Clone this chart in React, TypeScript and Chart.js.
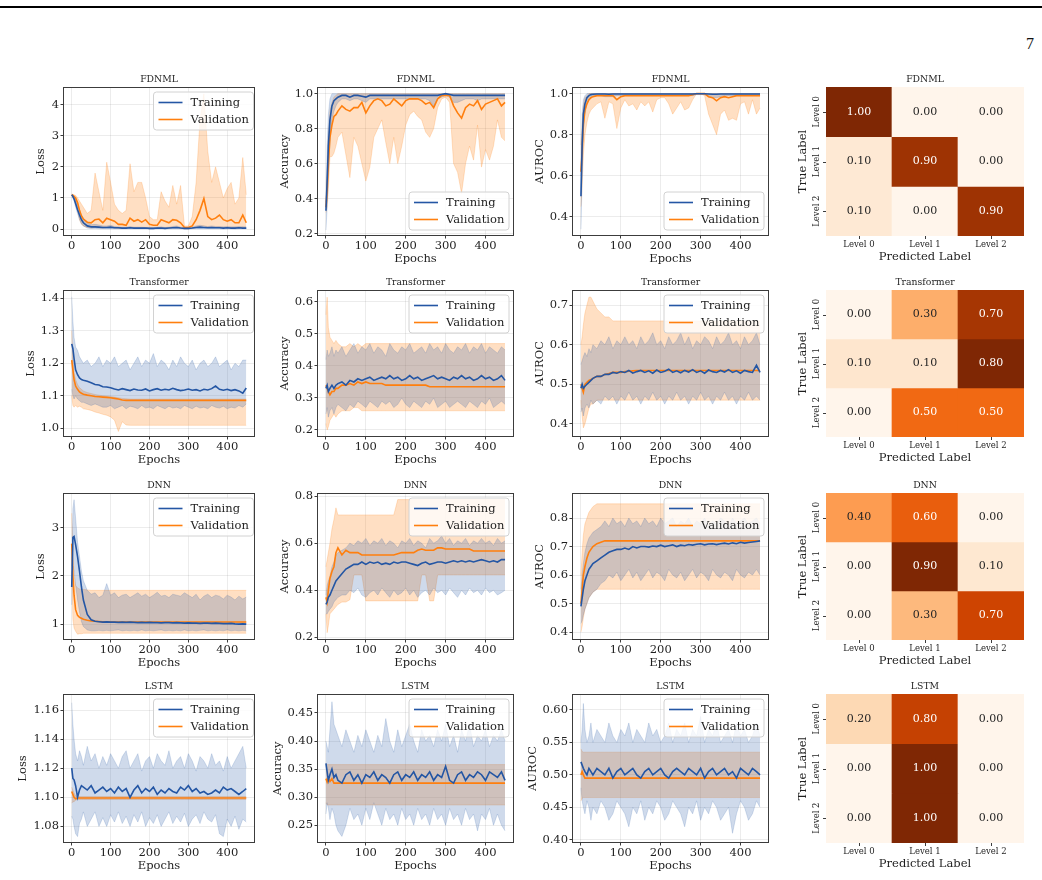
import React, { useEffect, useRef } from 'react';
import { Chart, registerables } from 'chart.js';
Chart.register(...registerables);

// ---------------- DATA ----------------
const EPOCHS = [
  0, 3, 6, 10, 15, 20, 25, 30, 40, 50,
  60, 70, 80, 90, 100, 110, 120, 130, 140, 150,
  160, 170, 180, 190, 200, 210, 220, 230, 240, 250,
  260, 270, 280, 290, 300, 310, 320, 330, 340, 350,
  360, 370, 380, 390, 400, 410, 420, 430, 440, 449,
];
const X_TICKS = [0, 100, 200, 300, 400];
const MODEL_NAMES = ['FDNML', 'Transformer', 'DNN', 'LSTM'];
const METRIC_LABELS = ['Loss', 'Accuracy', 'AUROC'];
const SERIES_NAMES = ['Training', 'Validation'];
const CM_LABELS = ['Level 0', 'Level 1', 'Level 2'];

// FDNML loss
const FDNML_LOSS_TR = [1.10,1.05,0.97,0.82,0.62,0.45,0.30,0.20,0.10,0.07, 0.07,0.06,0.05,0.05,0.06,0.04,0.04,0.03,0.03,0.04, 0.03,0.03,0.03,0.03,0.02,0.02,0.03,0.03,0.02,0.03, 0.04,0.05,0.03,0.02,0.02,0.03,0.05,0.06,0.05,0.04, 0.05,0.04,0.04,0.03,0.04,0.03,0.03,0.04,0.03,0.03];
const FDNML_LOSS_TR_LO = [1.08,1.00,0.90,0.70,0.50,0.30,0.17,0.10,0.03,0.02, 0.02,0.01,0.01,0.01,0.01,0.01,0.01,0.01,0.01,0.01, 0.01,0.01,0.01,0.01,0.00,0.00,0.01,0.01,0.00,0.01, 0.01,0.01,0.01,0.00,0.00,0.01,0.01,0.01,0.01,0.01, 0.01,0.01,0.01,0.00,0.01,0.01,0.00,0.01,0.01,0.01];
const FDNML_LOSS_TR_HI = [1.12,1.10,1.05,0.95,0.78,0.60,0.45,0.35,0.20,0.14, 0.15,0.13,0.10,0.10,0.12,0.08,0.07,0.06,0.06,0.08, 0.06,0.06,0.06,0.05,0.05,0.05,0.06,0.07,0.05,0.06, 0.08,0.10,0.06,0.05,0.05,0.06,0.10,0.12,0.10,0.08, 0.10,0.08,0.08,0.07,0.08,0.07,0.07,0.08,0.07,0.07];
const FDNML_LOSS_VA = [1.10,1.08,1.05,1.00,0.85,0.60,0.42,0.32,0.22,0.20, 0.30,0.32,0.20,0.35,0.30,0.25,0.15,0.15,0.12,0.35, 0.25,0.30,0.22,0.30,0.15,0.12,0.12,0.30,0.25,0.20, 0.30,0.28,0.20,0.05,0.05,0.10,0.30,0.60,0.98,0.40, 0.30,0.35,0.45,0.30,0.25,0.30,0.20,0.20,0.45,0.20];
const FDNML_LOSS_VA_LO = [1.08,1.00,0.95,0.85,0.60,0.30,0.15,0.10,0.05,0.03, 0.05,0.04,0.03,0.05,0.05,0.03,0.02,0.02,0.02,0.05, 0.03,0.04,0.03,0.04,0.02,0.02,0.02,0.05,0.03,0.03, 0.04,0.04,0.03,0.01,0.01,0.02,0.05,0.08,0.10,0.06, 0.05,0.05,0.06,0.04,0.04,0.05,0.03,0.03,0.06,0.03];
const FDNML_LOSS_VA_HI = [1.12,1.12,1.10,1.08,1.00,0.90,0.80,0.70,0.50,0.60, 1.80,1.20,0.60,2.15,1.50,0.80,0.60,0.50,0.60,2.10, 1.20,1.50,1.50,1.00,0.40,0.30,0.30,1.20,0.90,0.70, 1.40,0.80,1.40,0.10,0.10,0.40,1.50,3.50,4.35,2.50, 1.50,2.00,1.50,1.00,1.30,1.50,0.80,1.00,2.30,1.10];

// FDNML accuracy
const FDNML_ACC_TR = [0.33,0.50,0.70,0.85,0.93,0.96,0.97,0.98,0.99,0.99, 0.98,0.99,0.99,0.985,0.98,0.99,0.99,0.99,0.99,0.99, 0.99,0.99,0.99,0.99,0.99,0.99,0.99,0.99,0.99,0.99, 0.99,0.99,0.99,0.995,1.00,0.995,0.99,0.99,0.99,0.99, 0.99,0.99,0.99,0.99,0.99,0.99,0.99,0.99,0.99,0.99];
const FDNML_ACC_TR_LO = [0.22,0.35,0.55,0.72,0.85,0.90,0.93,0.95,0.97,0.97, 0.96,0.97,0.97,0.96,0.95,0.97,0.97,0.97,0.97,0.97, 0.97,0.97,0.97,0.97,0.97,0.97,0.97,0.97,0.97,0.97, 0.96,0.93,0.97,0.98,0.99,0.98,0.95,0.95,0.96,0.97, 0.97,0.97,0.96,0.97,0.97,0.97,0.97,0.97,0.97,0.97];
const FDNML_ACC_TR_HI = [0.38,0.70,0.88,0.97,1,1,1,1,1,1, 1,1,1,1,1,1,1,1,1,1, 1,1,1,1,1,1,1,1,1,1, 1,1,1,1,1,1,1,1,1,1, 1,1,1,1,1,1,1,1,1,1];
const FDNML_ACC_VA = [0.35,0.45,0.60,0.75,0.82,0.87,0.88,0.90,0.93,0.91, 0.90,0.92,0.92,0.95,0.89,0.93,0.96,0.97,0.96,0.93, 0.94,0.97,0.95,0.93,0.96,0.97,0.97,0.97,0.96,0.94, 0.95,0.92,0.97,0.99,0.99,0.99,0.93,0.89,0.86,0.92, 0.94,0.93,0.96,0.91,0.94,0.95,0.96,0.97,0.93,0.95];
const FDNML_ACC_VA_LO = [0.32,0.35,0.45,0.64,0.64,0.66,0.70,0.75,0.78,0.65, 0.52,0.75,0.70,0.60,0.50,0.58,0.75,0.80,0.85,0.72, 0.60,0.75,0.60,0.70,0.82,0.88,0.90,0.87,0.85,0.78, 0.75,0.80,0.92,0.97,0.98,0.95,0.60,0.55,0.43,0.60, 0.70,0.62,0.82,0.58,0.68,0.62,0.70,0.85,0.75,0.73];
const FDNML_ACC_VA_HI = [0.38,0.55,0.75,0.90,0.95,0.98,0.99,1,1,1, 1,1,1,1,1,1,1,1,1,1, 1,1,1,1,1,1,1,1,1,1, 1,1,1,1,1,1,1,1,1,1, 1,1,1,1,1,1,1,1,1,1];

// FDNML AUROC
const FDNML_AUC_TR = [0.50,0.75,0.90,0.95,0.98,0.99,0.995,0.997,0.998,0.998, 0.998,0.997,0.998,0.998,0.998,0.998,0.998,0.998,0.998,0.998, 0.998,0.998,0.998,0.998,0.998,0.998,0.998,0.998,0.998,0.998, 0.998,0.998,0.998,0.999,0.999,0.999,0.998,0.997,0.997,0.998, 0.998,0.998,0.998,0.998,0.998,0.998,0.998,0.998,0.998,0.998];
const FDNML_AUC_TR_LO = [0.34,0.60,0.82,0.90,0.95,0.97,0.98,0.99,0.99,0.99, 0.985,0.985,0.985,0.99,0.99,0.99,0.99,0.99,0.99,0.99, 0.99,0.99,0.99,0.99,0.99,0.99,0.99,0.99,0.99,0.99, 0.99,0.99,0.99,0.995,0.995,0.995,0.985,0.98,0.98,0.985, 0.99,0.99,0.99,0.99,0.99,0.99,0.99,0.99,0.99,0.99];
const FDNML_AUC_TR_HI = [0.60,0.90,0.97,0.99,1,1,1,1,1,1, 1,1,1,1,1,1,1,1,1,1, 1,1,1,1,1,1,1,1,1,1, 1,1,1,1,1,1,1,1,1,1, 1,1,1,1,1,1,1,1,1,1];
const FDNML_AUC_VA = [0.62,0.72,0.85,0.92,0.95,0.97,0.98,0.985,0.99,0.99, 0.99,0.99,0.99,0.97,0.985,0.99,0.99,0.99,0.99,0.99, 0.99,0.99,0.99,0.99,0.99,0.99,0.99,0.99,0.99,0.99, 0.99,0.99,0.995,1.00,1.00,1.00,0.985,0.98,0.965,0.98, 0.985,0.98,0.985,0.99,0.99,0.99,0.99,0.99,0.99,0.99];
const FDNML_AUC_VA_LO = [0.45,0.55,0.70,0.80,0.86,0.90,0.92,0.93,0.95,0.96, 0.88,0.96,0.95,0.83,0.93,0.97,0.94,0.95,0.92,0.96, 0.94,0.96,0.91,0.97,0.98,0.98,0.95,0.90,0.93,0.96, 0.92,0.93,0.97,1.00,1.00,0.99,0.90,0.85,0.80,0.90, 0.92,0.87,0.88,0.87,0.95,0.96,0.90,0.97,0.90,0.93];
const FDNML_AUC_VA_HI = [0.75,0.85,0.94,0.98,0.99,1,1,1,1,1, 1,1,1,1,1,1,1,1,1,1, 1,1,1,1,1,1,1,1,1,1, 1,1,1,1,1,1,1,1,1,1, 1,1,1,1,1,1,1,1,1,1];

// Transformer loss
const TRF_LOSS_TR = [1.26,1.245,1.215,1.18,1.165,1.155,1.15,1.148,1.145,1.14, 1.135,1.133,1.128,1.127,1.125,1.121,1.118,1.122,1.119,1.116, 1.121,1.118,1.117,1.121,1.115,1.119,1.122,1.117,1.12,1.118, 1.123,1.119,1.116,1.118,1.121,1.117,1.119,1.115,1.12,1.118, 1.122,1.13,1.12,1.117,1.12,1.116,1.119,1.115,1.108,1.124];
const TRF_LOSS_TR_LO = [1.12,1.10,1.09,1.10,1.09,1.085,1.08,1.08,1.075,1.07, 1.075,1.07,1.065,1.065,1.07,1.06,1.065,1.07,1.06,1.068, 1.065,1.06,1.07,1.062,1.065,1.06,1.07,1.065,1.06,1.068, 1.062,1.065,1.06,1.07,1.065,1.06,1.068,1.062,1.065,1.06, 1.07,1.065,1.062,1.068,1.06,1.065,1.062,1.07,1.065,1.075];
const TRF_LOSS_TR_HI = [1.405,1.33,1.28,1.25,1.24,1.22,1.21,1.20,1.21,1.19, 1.20,1.22,1.19,1.21,1.20,1.22,1.19,1.20,1.21,1.18, 1.20,1.22,1.19,1.21,1.20,1.23,1.19,1.21,1.20,1.18, 1.21,1.19,1.22,1.20,1.19,1.21,1.18,1.20,1.21,1.19, 1.20,1.22,1.19,1.20,1.21,1.18,1.20,1.19,1.21,1.21];
const TRF_LOSS_VA = [1.21,1.18,1.15,1.13,1.12,1.112,1.108,1.105,1.102,1.10, 1.098,1.097,1.096,1.095,1.094,1.092,1.09,1.087,1.086,1.086, 1.086,1.086,1.086,1.086,1.086,1.086,1.086,1.086,1.086,1.086, 1.086,1.086,1.086,1.086,1.086,1.086,1.086,1.086,1.086,1.086, 1.086,1.086,1.086,1.086,1.086,1.086,1.086,1.086,1.086,1.086];
const TRF_LOSS_VA_LO = [1.10,1.07,1.065,1.07,1.065,1.068,1.065,1.06,1.058,1.055, 1.05,1.047,1.043,1.04,1.035,1.025,0.99,1.02,1.01,1.009, 1.009,1.009,1.009,1.009,1.009,1.009,1.009,1.009,1.009,1.009, 1.009,1.009,1.009,1.009,1.009,1.009,1.009,1.009,1.009,1.009, 1.009,1.009,1.009,1.009,1.009,1.009,1.009,1.009,1.009,1.009];
const TRF_LOSS_VA_HI = [1.30,1.22,1.17,1.15,1.135,1.125,1.12,1.115,1.11,1.107, 1.104,1.102,1.10,1.099,1.098,1.096,1.094,1.092,1.091,1.09, 1.09,1.09,1.09,1.09,1.09,1.09,1.09,1.09,1.09,1.09, 1.09,1.09,1.09,1.09,1.09,1.09,1.09,1.09,1.09,1.09, 1.09,1.09,1.09,1.09,1.09,1.09,1.09,1.09,1.09,1.09];

// Transformer accuracy
const TRF_ACC_TR = [0.33,0.34,0.32,0.33,0.34,0.33,0.34,0.345,0.35,0.34, 0.355,0.35,0.36,0.355,0.36,0.365,0.355,0.36,0.365,0.36, 0.37,0.36,0.365,0.355,0.36,0.37,0.36,0.365,0.355,0.36, 0.365,0.37,0.36,0.365,0.36,0.355,0.365,0.36,0.37,0.36, 0.365,0.355,0.36,0.37,0.36,0.365,0.355,0.36,0.37,0.355];
const TRF_ACC_TR_LO = [0.25,0.27,0.24,0.26,0.27,0.25,0.27,0.28,0.27,0.26, 0.28,0.27,0.29,0.28,0.27,0.29,0.28,0.27,0.29,0.28, 0.29,0.27,0.28,0.30,0.28,0.27,0.29,0.28,0.27,0.29, 0.28,0.30,0.27,0.28,0.29,0.27,0.28,0.29,0.28,0.27, 0.29,0.28,0.27,0.29,0.28,0.30,0.27,0.28,0.29,0.28];
const TRF_ACC_TR_HI = [0.42,0.45,0.43,0.44,0.46,0.43,0.45,0.44,0.46,0.43, 0.45,0.47,0.44,0.46,0.45,0.47,0.44,0.46,0.45,0.43, 0.47,0.45,0.44,0.46,0.45,0.47,0.44,0.45,0.46,0.44, 0.47,0.45,0.46,0.44,0.47,0.45,0.44,0.46,0.45,0.47, 0.44,0.46,0.45,0.47,0.44,0.46,0.45,0.44,0.46,0.45];
const TRF_ACC_VA = [0.34,0.33,0.32,0.31,0.32,0.32,0.33,0.33,0.34,0.34, 0.345,0.34,0.35,0.345,0.35,0.345,0.345,0.345,0.345,0.34, 0.34,0.34,0.34,0.34,0.34,0.34,0.34,0.34,0.34,0.34, 0.335,0.335,0.335,0.335,0.335,0.335,0.335,0.335,0.335,0.335, 0.335,0.335,0.335,0.335,0.335,0.335,0.335,0.335,0.335,0.335];
const TRF_ACC_VA_LO = [0.22,0.20,0.21,0.23,0.24,0.25,0.24,0.25,0.26,0.26, 0.26,0.27,0.27,0.26,0.26,0.26,0.26,0.26,0.26,0.26, 0.26,0.26,0.26,0.26,0.26,0.26,0.26,0.26,0.26,0.26, 0.26,0.26,0.26,0.26,0.26,0.26,0.26,0.26,0.26,0.26, 0.26,0.26,0.26,0.26,0.26,0.26,0.26,0.26,0.26,0.26];
const TRF_ACC_VA_HI = [0.56,0.615,0.52,0.49,0.48,0.47,0.48,0.47,0.46,0.46, 0.47,0.46,0.47,0.46,0.47,0.47,0.47,0.47,0.47,0.47, 0.47,0.47,0.47,0.47,0.47,0.47,0.47,0.47,0.47,0.47, 0.47,0.47,0.47,0.47,0.47,0.47,0.47,0.47,0.47,0.47, 0.47,0.47,0.47,0.47,0.47,0.47,0.47,0.47,0.47,0.47];

// Transformer AUROC
const TRF_AUC_TR = [0.49,0.50,0.49,0.495,0.50,0.505,0.51,0.515,0.52,0.52, 0.525,0.525,0.53,0.528,0.532,0.53,0.535,0.528,0.532,0.535, 0.53,0.534,0.528,0.536,0.53,0.533,0.538,0.53,0.534,0.529, 0.535,0.531,0.537,0.53,0.534,0.528,0.536,0.532,0.53,0.535, 0.531,0.537,0.53,0.534,0.528,0.535,0.532,0.53,0.548,0.53];
const TRF_AUC_TR_LO = [0.43,0.44,0.42,0.44,0.45,0.44,0.46,0.45,0.46,0.45, 0.47,0.46,0.47,0.45,0.47,0.46,0.48,0.46,0.47,0.45, 0.47,0.46,0.48,0.46,0.47,0.45,0.47,0.46,0.48,0.46, 0.47,0.45,0.47,0.46,0.48,0.46,0.47,0.45,0.47,0.46, 0.48,0.46,0.47,0.45,0.47,0.46,0.48,0.46,0.47,0.46];
const TRF_AUC_TR_HI = [0.55,0.56,0.57,0.58,0.57,0.59,0.58,0.60,0.59,0.61, 0.60,0.62,0.59,0.61,0.60,0.62,0.60,0.61,0.59,0.62, 0.60,0.61,0.63,0.60,0.61,0.59,0.62,0.60,0.61,0.63, 0.60,0.62,0.59,0.61,0.60,0.62,0.61,0.59,0.62,0.60, 0.61,0.63,0.60,0.61,0.59,0.62,0.60,0.61,0.63,0.60];
const TRF_AUC_VA = [0.50,0.49,0.48,0.50,0.505,0.51,0.512,0.515,0.52,0.52, 0.525,0.527,0.53,0.53,0.53,0.532,0.533,0.534,0.535,0.535, 0.535,0.535,0.535,0.535,0.535,0.535,0.535,0.535,0.535,0.535, 0.535,0.535,0.535,0.535,0.535,0.535,0.535,0.535,0.535,0.535, 0.535,0.535,0.535,0.535,0.535,0.535,0.535,0.535,0.535,0.535];
const TRF_AUC_VA_LO = [0.46,0.42,0.39,0.40,0.42,0.44,0.45,0.45,0.46,0.46, 0.46,0.46,0.46,0.46,0.46,0.46,0.46,0.46,0.46,0.46, 0.46,0.46,0.46,0.46,0.46,0.46,0.46,0.46,0.46,0.46, 0.46,0.46,0.46,0.46,0.46,0.46,0.46,0.46,0.46,0.46, 0.46,0.46,0.46,0.46,0.46,0.46,0.46,0.46,0.46,0.46];
const TRF_AUC_VA_HI = [0.60,0.62,0.65,0.68,0.70,0.72,0.72,0.71,0.69,0.68, 0.67,0.67,0.66,0.66,0.66,0.66,0.66,0.66,0.66,0.66, 0.66,0.66,0.66,0.66,0.66,0.66,0.66,0.66,0.66,0.66, 0.66,0.66,0.66,0.66,0.66,0.66,0.66,0.66,0.66,0.66, 0.66,0.66,0.66,0.66,0.66,0.66,0.66,0.66,0.66,0.66];

// DNN loss
const DNN_LOSS_TR = [1.77,2.80,2.82,2.65,2.40,2.10,1.77,1.50,1.20,1.09, 1.06,1.05,1.04,1.045,1.04,1.04,1.035,1.04,1.035,1.04, 1.035,1.03,1.035,1.03,1.035,1.03,1.03,1.025,1.03,1.03, 1.025,1.03,1.025,1.02,1.025,1.02,1.02,1.015,1.02,1.02, 1.015,1.02,1.015,1.01,1.01,1.015,1.005,1.00,1.005,1.00];
const DNN_LOSS_TR_LO = [1.40,2.20,2.10,1.80,1.50,1.25,1.05,0.95,0.88,0.86, 0.86,0.87,0.86,0.87,0.86,0.87,0.88,0.86,0.87,0.86, 0.87,0.86,0.88,0.86,0.87,0.86,0.87,0.88,0.86,0.87, 0.86,0.87,0.86,0.88,0.86,0.87,0.86,0.87,0.88,0.86, 0.87,0.86,0.87,0.86,0.88,0.86,0.87,0.86,0.87,0.86];
const DNN_LOSS_TR_HI = [2.20,3.40,3.58,3.20,2.70,2.40,2.10,1.90,1.70,1.62, 1.65,1.55,1.60,1.84,1.60,1.65,1.55,1.60,1.62,1.55, 1.60,1.65,1.58,1.62,1.55,1.60,1.66,1.58,1.60,1.55, 1.62,1.60,1.58,1.65,1.60,1.55,1.62,1.50,1.58,1.62, 1.55,1.60,1.58,1.52,1.60,1.56,1.50,1.58,1.52,1.56];
const DNN_LOSS_VA = [2.67,2.00,1.60,1.30,1.18,1.14,1.12,1.10,1.08,1.065, 1.06,1.055,1.05,1.05,1.045,1.045,1.045,1.045,1.045,1.045, 1.045,1.045,1.045,1.045,1.045,1.045,1.045,1.045,1.045,1.045, 1.045,1.045,1.045,1.045,1.045,1.045,1.045,1.045,1.045,1.045, 1.045,1.045,1.045,1.045,1.045,1.045,1.045,1.045,1.045,1.045];
const DNN_LOSS_VA_LO = [2.10,1.10,0.92,0.85,0.79,0.80,0.80,0.81,0.81,0.81, 0.81,0.81,0.81,0.81,0.81,0.81,0.81,0.81,0.81,0.81, 0.81,0.81,0.81,0.81,0.81,0.81,0.81,0.81,0.81,0.81, 0.81,0.81,0.81,0.81,0.81,0.81,0.81,0.81,0.81,0.81, 0.81,0.81,0.81,0.81,0.81,0.81,0.81,0.81,0.81,0.81];
const DNN_LOSS_VA_HI = [3.30,2.50,2.00,1.80,1.75,1.73,1.72,1.72,1.71,1.70, 1.70,1.70,1.70,1.70,1.70,1.70,1.70,1.70,1.70,1.70, 1.70,1.70,1.70,1.70,1.70,1.70,1.70,1.70,1.70,1.70, 1.70,1.70,1.70,1.70,1.70,1.70,1.70,1.70,1.70,1.70, 1.70,1.70,1.70,1.70,1.70,1.70,1.70,1.70,1.70,1.70];

// DNN accuracy
const DNN_ACC_TR = [0.34,0.35,0.37,0.38,0.40,0.42,0.44,0.45,0.47,0.49, 0.50,0.51,0.51,0.52,0.51,0.52,0.515,0.52,0.51,0.515, 0.51,0.52,0.515,0.52,0.52,0.515,0.51,0.505,0.515,0.52, 0.51,0.515,0.52,0.52,0.515,0.52,0.525,0.52,0.525,0.52, 0.525,0.52,0.525,0.53,0.525,0.52,0.525,0.52,0.53,0.53];
const DNN_ACC_TR_LO = [0.30,0.30,0.31,0.32,0.33,0.35,0.36,0.37,0.38,0.38, 0.40,0.39,0.41,0.38,0.37,0.39,0.40,0.38,0.41,0.39, 0.37,0.40,0.38,0.39,0.41,0.38,0.40,0.37,0.39,0.40, 0.38,0.41,0.39,0.40,0.38,0.41,0.39,0.37,0.40,0.38, 0.41,0.39,0.40,0.38,0.41,0.39,0.40,0.38,0.39,0.40];
const DNN_ACC_TR_HI = [0.38,0.42,0.44,0.46,0.50,0.52,0.55,0.56,0.57,0.58, 0.60,0.59,0.61,0.60,0.62,0.59,0.61,0.60,0.62,0.59, 0.61,0.60,0.58,0.61,0.60,0.62,0.59,0.61,0.60,0.58, 0.62,0.60,0.61,0.63,0.60,0.62,0.59,0.61,0.60,0.62, 0.59,0.61,0.60,0.62,0.60,0.61,0.59,0.62,0.60,0.61];
const DNN_ACC_VA = [0.37,0.35,0.40,0.45,0.48,0.50,0.56,0.58,0.55,0.57, 0.56,0.56,0.56,0.55,0.55,0.55,0.55,0.55,0.55,0.55, 0.55,0.55,0.555,0.56,0.56,0.56,0.56,0.57,0.575,0.57, 0.57,0.57,0.58,0.58,0.575,0.575,0.575,0.575,0.575,0.575, 0.575,0.567,0.567,0.567,0.567,0.567,0.567,0.567,0.567,0.567];
const DNN_ACC_VA_LO = [0.30,0.22,0.25,0.30,0.31,0.32,0.33,0.34,0.35,0.35, 0.36,0.465,0.465,0.465,0.355,0.355,0.355,0.355,0.355,0.355, 0.355,0.355,0.355,0.355,0.355,0.355,0.355,0.355,0.465,0.465, 0.355,0.355,0.465,0.465,0.465,0.465,0.465,0.465,0.465,0.465, 0.465,0.465,0.465,0.465,0.465,0.465,0.465,0.465,0.465,0.465];
const DNN_ACC_VA_HI = [0.50,0.53,0.56,0.60,0.66,0.70,0.75,0.72,0.72,0.72, 0.72,0.72,0.72,0.72,0.72,0.72,0.72,0.72,0.72,0.72, 0.72,0.72,0.785,0.785,0.785,0.785,0.785,0.785,0.785,0.785, 0.785,0.785,0.785,0.785,0.785,0.785,0.785,0.785,0.785,0.785, 0.785,0.785,0.785,0.785,0.785,0.785,0.785,0.785,0.785,0.785];

// DNN AUROC
const DNN_AUC_TR = [0.49,0.52,0.55,0.58,0.60,0.62,0.63,0.64,0.65,0.66, 0.67,0.68,0.685,0.69,0.69,0.695,0.69,0.70,0.695,0.70, 0.70,0.698,0.702,0.70,0.705,0.70,0.703,0.706,0.70,0.705, 0.703,0.707,0.705,0.708,0.71,0.706,0.709,0.71,0.707,0.71, 0.712,0.709,0.713,0.71,0.715,0.712,0.714,0.716,0.718,0.72];
const DNN_AUC_TR_LO = [0.43,0.44,0.46,0.48,0.50,0.52,0.53,0.54,0.55,0.57, 0.58,0.60,0.59,0.61,0.58,0.60,0.62,0.59,0.61,0.58, 0.60,0.62,0.59,0.61,0.60,0.58,0.62,0.60,0.59,0.61, 0.58,0.60,0.62,0.59,0.61,0.60,0.58,0.62,0.60,0.59, 0.61,0.60,0.58,0.62,0.60,0.59,0.61,0.60,0.62,0.60];
const DNN_AUC_TR_HI = [0.55,0.60,0.64,0.68,0.71,0.73,0.74,0.75,0.76,0.77, 0.79,0.77,0.80,0.78,0.79,0.77,0.80,0.78,0.79,0.77, 0.80,0.78,0.79,0.77,0.80,0.78,0.79,0.80,0.77,0.79, 0.78,0.80,0.77,0.79,0.78,0.80,0.77,0.79,0.78,0.80, 0.79,0.77,0.80,0.78,0.79,0.80,0.78,0.79,0.80,0.78];
const DNN_AUC_VA = [0.50,0.55,0.60,0.63,0.66,0.68,0.69,0.70,0.71,0.715, 0.72,0.72,0.72,0.72,0.72,0.72,0.72,0.72,0.72,0.72, 0.72,0.72,0.72,0.72,0.72,0.72,0.72,0.72,0.72,0.72, 0.72,0.72,0.72,0.72,0.72,0.72,0.72,0.72,0.72,0.72, 0.72,0.72,0.72,0.72,0.72,0.72,0.72,0.72,0.72,0.72];
const DNN_AUC_VA_LO = [0.40,0.42,0.45,0.48,0.50,0.52,0.53,0.54,0.55,0.55, 0.55,0.55,0.55,0.55,0.55,0.55,0.55,0.55,0.55,0.55, 0.55,0.55,0.55,0.55,0.55,0.55,0.55,0.55,0.55,0.55, 0.55,0.55,0.55,0.55,0.55,0.55,0.55,0.55,0.55,0.55, 0.55,0.55,0.55,0.55,0.55,0.55,0.55,0.55,0.55,0.55];
const DNN_AUC_VA_HI = [0.60,0.68,0.74,0.78,0.80,0.82,0.83,0.84,0.85,0.85, 0.85,0.85,0.85,0.85,0.85,0.85,0.85,0.85,0.85,0.85, 0.85,0.85,0.85,0.85,0.85,0.85,0.85,0.85,0.85,0.85, 0.85,0.85,0.85,0.85,0.85,0.85,0.85,0.85,0.85,0.85, 0.85,0.85,0.85,0.85,0.85,0.85,0.85,0.85,0.85,0.85];

// LSTM loss
const LSTM_LOSS_TR = [1.12,1.113,1.112,1.108,1.100,1.105,1.108,1.107,1.105,1.108, 1.103,1.105,1.107,1.104,1.106,1.103,1.107,1.104,1.106,1.100, 1.105,1.108,1.103,1.106,1.104,1.107,1.102,1.105,1.103,1.106, 1.104,1.103,1.107,1.105,1.108,1.104,1.106,1.103,1.104,1.102, 1.103,1.105,1.103,1.107,1.105,1.106,1.104,1.102,1.104,1.106];
const LSTM_LOSS_TR_LO = [1.087,1.085,1.080,1.075,1.073,1.082,1.085,1.090,1.080,1.085, 1.090,1.080,1.086,1.080,1.088,1.083,1.090,1.082,1.087,1.080, 1.088,1.083,1.090,1.080,1.086,1.082,1.088,1.080,1.085,1.090, 1.082,1.087,1.083,1.089,1.080,1.085,1.088,1.082,1.090,1.085, 1.083,1.088,1.075,1.073,1.085,1.080,1.087,1.078,1.085,1.083];
const LSTM_LOSS_TR_HI = [1.165,1.150,1.140,1.130,1.125,1.132,1.128,1.122,1.135,1.125, 1.130,1.120,1.128,1.122,1.130,1.125,1.120,1.128,1.132,1.120, 1.125,1.130,1.118,1.125,1.128,1.120,1.130,1.125,1.122,1.132, 1.120,1.125,1.128,1.120,1.130,1.125,1.118,1.128,1.125,1.120, 1.130,1.122,1.125,1.118,1.128,1.120,1.125,1.130,1.135,1.120];
const LSTM_LOSS_VA = [1.104,1.102,1.100,1.099,1.0995,1.0995,1.0995,1.0995,1.0995,1.0995, 1.0995,1.0995,1.0995,1.0995,1.0995,1.0995,1.0995,1.0995,1.0995,1.0995, 1.0995,1.0995,1.0995,1.0995,1.0995,1.0995,1.0995,1.0995,1.0995,1.0995, 1.0995,1.0995,1.0995,1.0995,1.0995,1.0995,1.0995,1.0995,1.0995,1.0995, 1.0995,1.0995,1.0995,1.0995,1.0995,1.0995,1.0995,1.0995,1.0995,1.0995];
const LSTM_LOSS_VA_LO = [1.096,1.097,1.097,1.098,1.0985,1.0985,1.0985,1.0985,1.0985,1.0985, 1.0985,1.0985,1.0985,1.0985,1.0985,1.0985,1.0985,1.0985,1.0985,1.0985, 1.0985,1.0985,1.0985,1.0985,1.0985,1.0985,1.0985,1.0985,1.0985,1.0985, 1.0985,1.0985,1.0985,1.0985,1.0985,1.0985,1.0985,1.0985,1.0985,1.0985, 1.0985,1.0985,1.0985,1.0985,1.0985,1.0985,1.0985,1.0985,1.0985,1.0985];
const LSTM_LOSS_VA_HI = [1.107,1.105,1.103,1.101,1.1005,1.1005,1.1005,1.1005,1.1005,1.1005, 1.1005,1.1005,1.1005,1.1005,1.1005,1.1005,1.1005,1.1005,1.1005,1.1005, 1.1005,1.1005,1.1005,1.1005,1.1005,1.1005,1.1005,1.1005,1.1005,1.1005, 1.1005,1.1005,1.1005,1.1005,1.1005,1.1005,1.1005,1.1005,1.1005,1.1005, 1.1005,1.1005,1.1005,1.1005,1.1005,1.1005,1.1005,1.1005,1.1005,1.1005];

// LSTM accuracy
const LSTM_ACC_TR = [0.36,0.345,0.33,0.34,0.35,0.335,0.34,0.33,0.325,0.34, 0.345,0.33,0.34,0.325,0.34,0.335,0.345,0.33,0.34,0.335, 0.325,0.34,0.345,0.33,0.34,0.335,0.345,0.33,0.34,0.335, 0.345,0.33,0.34,0.335,0.355,0.33,0.325,0.34,0.345,0.33, 0.34,0.335,0.345,0.34,0.33,0.345,0.34,0.335,0.345,0.33];
const LSTM_ACC_TR_LO = [0.27,0.29,0.28,0.26,0.28,0.27,0.25,0.24,0.23,0.25, 0.28,0.26,0.27,0.25,0.28,0.26,0.29,0.27,0.25,0.28, 0.26,0.27,0.25,0.28,0.26,0.27,0.25,0.28,0.26,0.27, 0.25,0.28,0.26,0.27,0.25,0.28,0.26,0.27,0.25,0.28, 0.26,0.27,0.24,0.27,0.26,0.28,0.25,0.27,0.25,0.24];
const LSTM_ACC_TR_HI = [0.40,0.39,0.38,0.42,0.47,0.43,0.42,0.41,0.39,0.42, 0.40,0.38,0.41,0.39,0.42,0.40,0.38,0.41,0.39,0.44, 0.40,0.38,0.42,0.39,0.41,0.43,0.40,0.38,0.42,0.40, 0.41,0.39,0.42,0.40,0.43,0.39,0.41,0.38,0.42,0.40, 0.43,0.39,0.41,0.40,0.42,0.39,0.41,0.40,0.42,0.40];
const LSTM_ACC_VA = [0.333,0.327,0.333,0.328,0.333,0.325,0.325,0.325,0.325,0.325, 0.325,0.325,0.325,0.325,0.325,0.325,0.325,0.325,0.325,0.325, 0.325,0.325,0.325,0.325,0.325,0.325,0.325,0.325,0.325,0.325, 0.325,0.325,0.325,0.325,0.325,0.325,0.325,0.325,0.325,0.325, 0.325,0.325,0.325,0.325,0.325,0.325,0.325,0.325,0.325,0.325];
const LSTM_ACC_VA_LO = [0.29,0.286,0.286,0.286,0.286,0.286,0.286,0.286,0.286,0.286, 0.286,0.286,0.286,0.286,0.286,0.286,0.286,0.286,0.286,0.286, 0.286,0.286,0.286,0.286,0.286,0.286,0.286,0.286,0.286,0.286, 0.286,0.286,0.286,0.286,0.286,0.286,0.286,0.286,0.286,0.286, 0.286,0.286,0.286,0.286,0.286,0.286,0.286,0.286,0.286,0.286];
const LSTM_ACC_VA_HI = [0.36,0.358,0.358,0.358,0.358,0.358,0.358,0.358,0.358,0.358, 0.358,0.358,0.358,0.358,0.358,0.358,0.358,0.358,0.358,0.358, 0.358,0.358,0.358,0.358,0.358,0.358,0.358,0.358,0.358,0.358, 0.358,0.358,0.358,0.358,0.358,0.358,0.358,0.358,0.358,0.358, 0.358,0.358,0.358,0.358,0.358,0.358,0.358,0.358,0.358,0.358];

// LSTM AUROC
const LSTM_AUC_TR = [0.52,0.515,0.51,0.505,0.50,0.51,0.505,0.50,0.51,0.505, 0.50,0.51,0.495,0.505,0.51,0.50,0.505,0.51,0.50,0.495, 0.505,0.51,0.50,0.505,0.51,0.50,0.495,0.505,0.51,0.505, 0.50,0.51,0.505,0.50,0.51,0.495,0.505,0.51,0.50,0.505, 0.51,0.50,0.505,0.495,0.51,0.505,0.50,0.51,0.505,0.50];
const LSTM_AUC_TR_LO = [0.48,0.46,0.45,0.44,0.46,0.45,0.43,0.45,0.44,0.46, 0.45,0.43,0.44,0.46,0.45,0.44,0.42,0.45,0.44,0.46, 0.43,0.45,0.44,0.46,0.45,0.43,0.44,0.46,0.45,0.44, 0.42,0.45,0.44,0.46,0.43,0.45,0.44,0.46,0.45,0.43, 0.44,0.45,0.41,0.44,0.46,0.45,0.43,0.44,0.46,0.45];
const LSTM_AUC_TR_HI = [0.55,0.57,0.61,0.57,0.55,0.56,0.58,0.55,0.57,0.56, 0.55,0.58,0.56,0.55,0.57,0.56,0.58,0.55,0.57,0.56, 0.55,0.58,0.56,0.57,0.55,0.56,0.58,0.55,0.57,0.56, 0.58,0.55,0.57,0.56,0.59,0.55,0.57,0.56,0.58,0.55, 0.56,0.57,0.55,0.58,0.56,0.57,0.55,0.56,0.58,0.56];
const LSTM_AUC_VA = [0.50,0.505,0.50,0.495,0.495,0.495,0.495,0.495,0.495,0.495, 0.495,0.495,0.495,0.495,0.495,0.495,0.495,0.495,0.495,0.495, 0.495,0.495,0.495,0.495,0.495,0.495,0.495,0.495,0.495,0.495, 0.495,0.495,0.495,0.495,0.495,0.495,0.495,0.495,0.495,0.495, 0.495,0.495,0.495,0.495,0.495,0.495,0.495,0.495,0.495,0.495];
const LSTM_AUC_VA_LO = [0.46,0.464,0.465,0.465,0.465,0.465,0.465,0.465,0.465,0.465, 0.465,0.465,0.465,0.465,0.465,0.465,0.465,0.465,0.465,0.465, 0.465,0.465,0.465,0.465,0.465,0.465,0.465,0.465,0.465,0.465, 0.465,0.465,0.465,0.465,0.465,0.465,0.465,0.465,0.465,0.465, 0.465,0.465,0.465,0.465,0.465,0.465,0.465,0.465,0.465,0.465];
const LSTM_AUC_VA_HI = [0.54,0.536,0.535,0.535,0.535,0.535,0.535,0.535,0.535,0.535, 0.535,0.535,0.535,0.535,0.535,0.535,0.535,0.535,0.535,0.535, 0.535,0.535,0.535,0.535,0.535,0.535,0.535,0.535,0.535,0.535, 0.535,0.535,0.535,0.535,0.535,0.535,0.535,0.535,0.535,0.535, 0.535,0.535,0.535,0.535,0.535,0.535,0.535,0.535,0.535,0.535];

// axis limits and ticks
const FDNML_LOSS_YLIM = [-0.225, 4.57];   const FDNML_LOSS_YTICKS = [0, 1, 2, 3, 4];
const FDNML_ACC_YLIM = [0.186, 1.038];    const FDNML_ACC_YTICKS = [0.2, 0.4, 0.6, 0.8, 1.0];
const FDNML_AUC_YLIM = [0.307, 1.032];    const FDNML_AUC_YTICKS = [0.4, 0.6, 0.8, 1.0];
const TRF_LOSS_YLIM = [0.973, 1.426];     const TRF_LOSS_YTICKS = [1.0, 1.1, 1.2, 1.3, 1.4];
const TRF_ACC_YLIM = [0.178, 0.6375];     const TRF_ACC_YTICKS = [0.2, 0.3, 0.4, 0.5, 0.6];
const TRF_AUC_YLIM = [0.367, 0.738];      const TRF_AUC_YTICKS = [0.4, 0.5, 0.6, 0.7];
const DNN_LOSS_YLIM = [0.67, 3.72];       const DNN_LOSS_YTICKS = [1, 2, 3];
const DNN_ACC_YLIM = [0.189, 0.813];      const DNN_ACC_YTICKS = [0.2, 0.4, 0.6, 0.8];
const DNN_AUC_YLIM = [0.372, 0.888];      const DNN_AUC_YTICKS = [0.4, 0.5, 0.6, 0.7, 0.8];
const LSTM_LOSS_YLIM = [1.0686, 1.171];   const LSTM_LOSS_YTICKS = [1.08, 1.10, 1.12, 1.14, 1.16];
const LSTM_ACC_YLIM = [0.2183, 0.4838];   const LSTM_ACC_YTICKS = [0.25, 0.30, 0.35, 0.40, 0.45];
const LSTM_AUC_YLIM = [0.395, 0.6246];    const LSTM_AUC_YTICKS = [0.40, 0.45, 0.50, 0.55, 0.60];

// confusion matrices (rows: true label, cols: predicted label)
const FDNML_CM = [[1.00, 0.00, 0.00], [0.10, 0.90, 0.00], [0.10, 0.00, 0.90]];
const TRF_CM = [[0.00, 0.30, 0.70], [0.10, 0.10, 0.80], [0.00, 0.50, 0.50]];
const DNN_CM = [[0.40, 0.60, 0.00], [0.00, 0.90, 0.10], [0.00, 0.30, 0.70]];
const LSTM_CM = [[0.20, 0.80, 0.00], [0.00, 1.00, 0.00], [0.00, 1.00, 0.00]];

// ---------------- STYLE / LAYOUT ----------------
const FONT = 'DejaVu Serif';
const TXT = '#1e1e1e';
const AXIS_C = '#3c3c3c';
const GRID_C = 'rgba(0,0,0,0.075)';
const TR_COLOR = '#2456a4';
const VA_COLOR = '#ff7f0e';
const TR_BAND = 'rgba(36,86,164,0.22)';
const TR_EDGE = 'rgba(36,86,164,0.25)';
const VA_BAND = 'rgba(255,127,14,0.25)';
const VA_EDGE = 'rgba(255,127,14,0.3)';

const COL_LEFT = [63, 317, 572, 826];
const COL_W = [192, 197, 197, 198];
const ROW_TOP = [87, 290, 493, 694];
const ROW_H = [149, 147, 147, 149];
const YW = 56, TOPH = 20, XH = 34, RP = 4;
const CM_YW = 34, CM_XH = 30;
const TICK_SIZE = 11.5, LABEL_SIZE = 11.5, TITLE_SIZE = 9.3, LEGEND_SIZE = 11.5;

type Spec = {
  row: number; col: number;
  tr: number[]; trLo: number[]; trHi: number[];
  va: number[]; vaLo: number[]; vaHi: number[];
  ylim: number[]; yticks: number[]; dec: number;
  legend: 'tr' | 'br'; gap: number;
};

const LINE_SPECS: Spec[] = [
  { row: 0, col: 0, tr: FDNML_LOSS_TR, trLo: FDNML_LOSS_TR_LO, trHi: FDNML_LOSS_TR_HI, va: FDNML_LOSS_VA, vaLo: FDNML_LOSS_VA_LO, vaHi: FDNML_LOSS_VA_HI, ylim: FDNML_LOSS_YLIM, yticks: FDNML_LOSS_YTICKS, dec: 0, legend: 'tr', gap: 21.5 },
  { row: 0, col: 1, tr: FDNML_ACC_TR, trLo: FDNML_ACC_TR_LO, trHi: FDNML_ACC_TR_HI, va: FDNML_ACC_VA, vaLo: FDNML_ACC_VA_LO, vaHi: FDNML_ACC_VA_HI, ylim: FDNML_ACC_YLIM, yticks: FDNML_ACC_YTICKS, dec: 1, legend: 'br', gap: 31.5 },
  { row: 0, col: 2, tr: FDNML_AUC_TR, trLo: FDNML_AUC_TR_LO, trHi: FDNML_AUC_TR_HI, va: FDNML_AUC_VA, vaLo: FDNML_AUC_VA_LO, vaHi: FDNML_AUC_VA_HI, ylim: FDNML_AUC_YLIM, yticks: FDNML_AUC_YTICKS, dec: 1, legend: 'br', gap: 31.5 },
  { row: 1, col: 0, tr: TRF_LOSS_TR, trLo: TRF_LOSS_TR_LO, trHi: TRF_LOSS_TR_HI, va: TRF_LOSS_VA, vaLo: TRF_LOSS_VA_LO, vaHi: TRF_LOSS_VA_HI, ylim: TRF_LOSS_YLIM, yticks: TRF_LOSS_YTICKS, dec: 1, legend: 'tr', gap: 32 },
  { row: 1, col: 1, tr: TRF_ACC_TR, trLo: TRF_ACC_TR_LO, trHi: TRF_ACC_TR_HI, va: TRF_ACC_VA, vaLo: TRF_ACC_VA_LO, vaHi: TRF_ACC_VA_HI, ylim: TRF_ACC_YLIM, yticks: TRF_ACC_YTICKS, dec: 1, legend: 'tr', gap: 32 },
  { row: 1, col: 2, tr: TRF_AUC_TR, trLo: TRF_AUC_TR_LO, trHi: TRF_AUC_TR_HI, va: TRF_AUC_VA, vaLo: TRF_AUC_VA_LO, vaHi: TRF_AUC_VA_HI, ylim: TRF_AUC_YLIM, yticks: TRF_AUC_YTICKS, dec: 1, legend: 'tr', gap: 32 },
  { row: 2, col: 0, tr: DNN_LOSS_TR, trLo: DNN_LOSS_TR_LO, trHi: DNN_LOSS_TR_HI, va: DNN_LOSS_VA, vaLo: DNN_LOSS_VA_LO, vaHi: DNN_LOSS_VA_HI, ylim: DNN_LOSS_YLIM, yticks: DNN_LOSS_YTICKS, dec: 0, legend: 'tr', gap: 21.5 },
  { row: 2, col: 1, tr: DNN_ACC_TR, trLo: DNN_ACC_TR_LO, trHi: DNN_ACC_TR_HI, va: DNN_ACC_VA, vaLo: DNN_ACC_VA_LO, vaHi: DNN_ACC_VA_HI, ylim: DNN_ACC_YLIM, yticks: DNN_ACC_YTICKS, dec: 1, legend: 'tr', gap: 32 },
  { row: 2, col: 2, tr: DNN_AUC_TR, trLo: DNN_AUC_TR_LO, trHi: DNN_AUC_TR_HI, va: DNN_AUC_VA, vaLo: DNN_AUC_VA_LO, vaHi: DNN_AUC_VA_HI, ylim: DNN_AUC_YLIM, yticks: DNN_AUC_YTICKS, dec: 1, legend: 'tr', gap: 32 },
  { row: 3, col: 0, tr: LSTM_LOSS_TR, trLo: LSTM_LOSS_TR_LO, trHi: LSTM_LOSS_TR_HI, va: LSTM_LOSS_VA, vaLo: LSTM_LOSS_VA_LO, vaHi: LSTM_LOSS_VA_HI, ylim: LSTM_LOSS_YLIM, yticks: LSTM_LOSS_YTICKS, dec: 2, legend: 'tr', gap: 39.5 },
  { row: 3, col: 1, tr: LSTM_ACC_TR, trLo: LSTM_ACC_TR_LO, trHi: LSTM_ACC_TR_HI, va: LSTM_ACC_VA, vaLo: LSTM_ACC_VA_LO, vaHi: LSTM_ACC_VA_HI, ylim: LSTM_ACC_YLIM, yticks: LSTM_ACC_YTICKS, dec: 2, legend: 'tr', gap: 39 },
  { row: 3, col: 2, tr: LSTM_AUC_TR, trLo: LSTM_AUC_TR_LO, trHi: LSTM_AUC_TR_HI, va: LSTM_AUC_VA, vaLo: LSTM_AUC_VA_LO, vaHi: LSTM_AUC_VA_HI, ylim: LSTM_AUC_YLIM, yticks: LSTM_AUC_YTICKS, dec: 2, legend: 'tr', gap: 39 },
];
const CMS = [FDNML_CM, TRF_CM, DNN_CM, LSTM_CM];

// ---------------- helpers ----------------
const ORANGES = ['#fff5eb', '#fee6ce', '#fdd0a2', '#fdae6b', '#fd8d3c', '#f16913', '#d94801', '#a63603', '#7f2704'];
function hexRgb(h: string) { return [parseInt(h.slice(1, 3), 16), parseInt(h.slice(3, 5), 16), parseInt(h.slice(5, 7), 16)]; }
function orangeRgb(t: number) {
  const tt = Math.max(0, Math.min(1, t)) * (ORANGES.length - 1);
  const i = Math.min(Math.floor(tt), ORANGES.length - 2);
  const f = tt - i;
  const a = hexRgb(ORANGES[i]), b = hexRgb(ORANGES[i + 1]);
  return a.map((v, k) => Math.round(v + (b[k] - v) * f));
}
function rgbStr(c: number[]) { return `rgb(${c[0]},${c[1]},${c[2]})`; }
function textOn(c: number[]) {
  const lin = c.map((v) => { const s = v / 255; return s <= 0.03928 ? s / 12.92 : Math.pow((s + 0.055) / 1.055, 2.4); });
  const lum = 0.2126 * lin[0] + 0.7152 * lin[1] + 0.0722 * lin[2];
  return lum > 0.408 ? '#262626' : '#ffffff';
}
const pts = (arr: number[]) => arr.map((y, i) => ({ x: EPOCHS[i], y }));

const framePlugin = {
  id: 'frame',
  afterDatasetsDraw(chart: any) {
    const { ctx, chartArea: a } = chart;
    ctx.save();
    ctx.strokeStyle = AXIS_C;
    ctx.lineWidth = 1;
    ctx.strokeRect(Math.round(a.left) + 0.5, Math.round(a.top) + 0.5, Math.round(a.right) - Math.round(a.left) - 1, Math.round(a.bottom) - Math.round(a.top) - 1);
    ctx.restore();
  },
};

const legendPlugin = {
  id: 'bandLegend',
  afterDraw(chart: any, _args: any, opts: any) {
    if (!opts || !opts.pos) return;
    const { ctx, chartArea: a } = chart;
    const w = 100, h = 38, r = 3;
    const x = a.right - opts.dx - w;
    const y = opts.pos === 'br' ? a.bottom - opts.dy - h : a.top + opts.dy;
    ctx.save();
    ctx.beginPath();
    ctx.moveTo(x + r, y);
    ctx.arcTo(x + w, y, x + w, y + h, r);
    ctx.arcTo(x + w, y + h, x, y + h, r);
    ctx.arcTo(x, y + h, x, y, r);
    ctx.arcTo(x, y, x + w, y, r);
    ctx.closePath();
    ctx.fillStyle = 'rgba(255,255,255,0.8)';
    ctx.fill();
    ctx.strokeStyle = '#d2d2d2';
    ctx.lineWidth = 1;
    ctx.stroke();
    const colors = [TR_COLOR, VA_COLOR];
    SERIES_NAMES.forEach((name, i) => {
      const cy = y + 10.5 + i * 17;
      ctx.strokeStyle = colors[i];
      ctx.lineWidth = 1.6;
      ctx.beginPath();
      ctx.moveTo(x + 5, cy);
      ctx.lineTo(x + 29, cy);
      ctx.stroke();
      ctx.fillStyle = TXT;
      ctx.font = `${LEGEND_SIZE}px "${FONT}"`;
      ctx.textAlign = 'left';
      ctx.textBaseline = 'middle';
      ctx.fillText(name, x + 37, cy + 0.5);
    });
    ctx.restore();
  },
};

const cmPlugin = {
  id: 'cmText',
  afterDatasetsDraw(chart: any, _args: any, opts: any) {
    const { ctx, chartArea: a } = chart;
    const m: number[][] = opts.matrix;
    const mx = Math.max(...m.flat());
    ctx.save();
    ctx.textAlign = 'center';
    ctx.textBaseline = 'middle';
    ctx.font = `11px "${FONT}"`;
    m.forEach((row, r) => {
      const meta = chart.getDatasetMeta(r);
      row.forEach((v, c) => {
        const el = meta.data[c];
        ctx.fillStyle = textOn(orangeRgb(v / mx));
        ctx.fillText(v.toFixed(2), el.x, (el.y + el.base) / 2);
      });
    });
    const ys = chart.scales.y;
    CM_LABELS.forEach((lab, r) => {
      const py = ys.getPixelForValue(r + 0.5);
      ctx.strokeStyle = AXIS_C;
      ctx.lineWidth = 1;
      ctx.beginPath();
      ctx.moveTo(a.left - 3, Math.round(py) + 0.5);
      ctx.lineTo(a.left, Math.round(py) + 0.5);
      ctx.stroke();
      ctx.save();
      ctx.translate(a.left - 9, py);
      ctx.rotate(-Math.PI / 2);
      ctx.fillStyle = TXT;
      ctx.font = `8.5px "${FONT}"`;
      ctx.fillText(lab, 0, 0);
      ctx.restore();
    });
    ctx.restore();
  },
};

function titleOpts(text: string) {
  const lh = TITLE_SIZE * 1.2;
  return {
    display: true, text, color: TXT, fullSize: false,
    font: { family: FONT, size: TITLE_SIZE, weight: 'normal', lineHeight: 1.2 },
    padding: { top: 13 - lh / 2, bottom: TOPH - lh - (13 - lh / 2) },
  };
}

function lineConfig(s: Spec): any {
  const labLh = LABEL_SIZE * 1.2;
  const lineDs = (arr: number[], color: string) => ({ data: pts(arr), borderColor: color, borderWidth: 1.6, pointRadius: 0, pointHoverRadius: 0, fill: false, tension: 0 });
  const bandDs = (arr: number[], edge: string, bg: string, fill: any) => ({ data: pts(arr), borderColor: edge, borderWidth: 0.7, backgroundColor: bg, pointRadius: 0, pointHoverRadius: 0, fill, tension: 0 });
  return {
    type: 'line',
    data: {
      datasets: [
        lineDs(s.tr, TR_COLOR),
        lineDs(s.va, VA_COLOR),
        bandDs(s.trHi, TR_EDGE, TR_BAND, '+1'),
        bandDs(s.trLo, TR_EDGE, TR_BAND, false),
        bandDs(s.vaHi, VA_EDGE, VA_BAND, '+1'),
        bandDs(s.vaLo, VA_EDGE, VA_BAND, false),
      ],
    },
    options: {
      responsive: false,
      animation: false,
      events: [],
      layout: { padding: { left: 0, right: RP, top: 0, bottom: 0 } },
      plugins: {
        legend: { display: false },
        tooltip: { enabled: false },
        title: titleOpts(MODEL_NAMES[s.row]),
        bandLegend: { pos: s.legend, dx: s.col === 0 ? 1.5 : 5, dy: s.legend === 'br' ? 6 : 5 },
      },
      scales: {
        x: {
          type: 'linear', min: -22.45, max: 471.45,
          afterBuildTicks: (ax: any) => { ax.ticks = X_TICKS.map((v) => ({ value: v })); },
          afterFit: (ax: any) => { ax.height = XH; },
          ticks: { color: TXT, font: { family: FONT, size: TICK_SIZE }, padding: 1, maxRotation: 0, autoSkip: false, callback: (v: any) => String(v) },
          grid: { color: GRID_C, tickColor: AXIS_C, tickLength: 2.5, lineWidth: 1 },
          border: { display: false },
          title: { display: true, text: 'Epochs', color: TXT, font: { family: FONT, size: LABEL_SIZE, lineHeight: 1.2 }, padding: { top: 0, bottom: XH - labLh / 2 - 23.3 } },
        },
        y: {
          type: 'linear', min: s.ylim[0], max: s.ylim[1],
          afterBuildTicks: (ax: any) => { ax.ticks = s.yticks.map((v) => ({ value: v })); },
          afterFit: (ax: any) => { ax.width = YW; },
          ticks: { color: TXT, font: { family: FONT, size: TICK_SIZE }, padding: 1.5, autoSkip: false, callback: (v: any) => Number(v).toFixed(s.dec) },
          grid: { color: GRID_C, tickColor: AXIS_C, tickLength: 2.5, lineWidth: 1 },
          border: { display: false },
          title: { display: true, text: METRIC_LABELS[s.col], color: TXT, font: { family: FONT, size: LABEL_SIZE, lineHeight: 1.2 }, padding: { top: YW - s.gap - labLh / 2, bottom: 0 } },
        },
      },
    },
    plugins: [framePlugin, legendPlugin],
  };
}

function cmConfig(row: number): any {
  const m = CMS[row];
  const mx = Math.max(...m.flat());
  const labLh = LABEL_SIZE * 1.2;
  return {
    type: 'bar',
    data: {
      labels: CM_LABELS,
      datasets: m.map((vals, r) => ({
        data: vals.map(() => [r, r + 1]),
        backgroundColor: vals.map((v) => rgbStr(orangeRgb(v / mx))),
        borderWidth: 0,
        grouped: false,
        barPercentage: 1,
        categoryPercentage: 1,
      })),
    },
    options: {
      responsive: false,
      animation: false,
      events: [],
      layout: { padding: { left: 0, right: RP, top: 0, bottom: 0 } },
      plugins: {
        legend: { display: false },
        tooltip: { enabled: false },
        title: titleOpts(MODEL_NAMES[row]),
        cmText: { matrix: m },
      },
      scales: {
        x: {
          type: 'category', offset: true,
          afterFit: (ax: any) => { ax.height = CM_XH; },
          ticks: { color: TXT, font: { family: FONT, size: 8.5 }, padding: 1, maxRotation: 0 },
          grid: { display: true, drawOnChartArea: false, offset: false, tickColor: AXIS_C, tickLength: 3 },
          border: { display: false },
          title: { display: true, text: 'Predicted Label', color: TXT, font: { family: FONT, size: LABEL_SIZE, lineHeight: 1.2 }, padding: { top: 0, bottom: CM_XH - labLh / 2 - 21 } },
        },
        y: {
          type: 'linear', min: 0, max: 3, reverse: true,
          afterFit: (ax: any) => { ax.width = CM_YW; },
          ticks: { display: false },
          grid: { display: false },
          border: { display: false },
          title: { display: true, text: 'True Label', color: TXT, font: { family: FONT, size: LABEL_SIZE, lineHeight: 1.2 }, padding: { top: CM_YW - 23 - labLh / 2, bottom: 0 } },
        },
      },
    },
    plugins: [cmPlugin],
  };
}

function ChartBox(props: { left: number; top: number; width: number; height: number; make: () => any }) {
  const ref = useRef<HTMLCanvasElement | null>(null);
  useEffect(() => {
    if (!ref.current) return;
    const chart = new Chart(ref.current, props.make());
    return () => chart.destroy();
  }, []);
  return (
    <canvas
      ref={ref}
      width={props.width}
      height={props.height}
      style={{ position: 'absolute', left: props.left, top: props.top, width: props.width, height: props.height }}
    />
  );
}

export default function App() {
  return (
    <div style={{ position: 'absolute', left: 0, top: 0, width: 1042, height: 880, background: '#ffffff', overflow: 'hidden' }}>
      <div style={{ position: 'absolute', left: 0, top: 6, width: 1042, height: 2, background: '#000' }} />
      <div style={{ position: 'absolute', right: 8, top: 35, fontFamily: '"Liberation Serif", serif', fontSize: 16, color: '#111' }}>7</div>
      {LINE_SPECS.map((s, i) => (
        <ChartBox
          key={`l${i}`}
          left={COL_LEFT[s.col] - YW}
          top={ROW_TOP[s.row] - TOPH}
          width={YW + COL_W[s.col] + RP}
          height={TOPH + ROW_H[s.row] + XH}
          make={() => lineConfig(s)}
        />
      ))}
      {CMS.map((_m, r) => (
        <ChartBox
          key={`c${r}`}
          left={COL_LEFT[3] - CM_YW}
          top={ROW_TOP[r] - TOPH}
          width={CM_YW + COL_W[3] + RP}
          height={TOPH + ROW_H[r] + CM_XH}
          make={() => cmConfig(r)}
        />
      ))}
    </div>
  );
}
